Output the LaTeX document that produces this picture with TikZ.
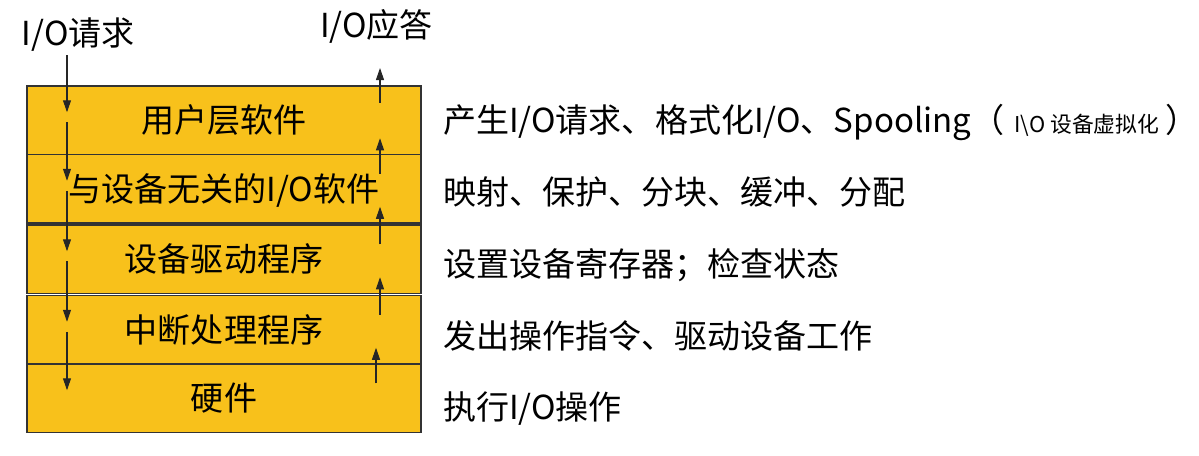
\documentclass[tikz,border=0pt]{standalone}
\usepackage{fontspec}
\setmainfont{Noto Sans CJK SC}
\usetikzlibrary{arrows.meta,positioning}
\definecolor{layerfill}{RGB}{248,193,27}

\begin{document}
\begin{tikzpicture}[
    every node/.style={font=\fontsize{18.8}{22}\selectfont, inner sep=0pt, outer sep=0pt,
                       text height=0.5cm, text depth=0cm},
    layer/.style={draw=black!80, line width=0.7pt, rectangle, fill=layerfill,
                  minimum width=7.88cm, minimum height=1.37cm},
    flow/.style={-{Triangle[length=0.24cm, width=0.16cm]}, line width=0.6pt, black!85}
]
\useasboundingbox (0,0) rectangle (23.98,-9.12);

\node[layer, anchor=north west] (user) at (0.54,-1.72) {用户层软件};
\node[layer, below=0cm of user] (indep) {与设备无关的I/O软件};
\node[layer, below=0.04cm of indep] (driver) {设备驱动程序};
\node[layer, below=0.04cm of driver] (intr) {中断处理程序};
\node[layer, below=0cm of intr] (hw) {硬件};

\node[above right=0.81cm and -0.10cm of user.north west] (req) {I/O请求};
\node[above left=0.97cm and -0.24cm of user.north east] (resp) {I/O应答};

\node[right=0.44cm of user.east, anchor=west] (duser)
    {产生I/O请求、格式化I/O、Spooling（\hspace{0.2cm}{\fontsize{12.4}{14}\selectfont I\textbackslash O 设备虚拟化}\hspace{0.12cm}）};
\node[below=0.935cm of duser.south west, anchor=north west] (dindep) {映射、保护、分块、缓冲、分配};
\node[below=0.935cm of dindep.south west, anchor=north west] (ddriver) {设置设备寄存器；检查状态};
\node[below=0.935cm of ddriver.south west, anchor=north west] (dintr) {发出操作指令、驱动设备工作};
\node[below=0.935cm of dintr.south west, anchor=north west] (dhw) {执行I/O操作};

% request goes down
\coordinate (reqtop) at ([xshift=0.80cm, yshift=0.62cm]user.north west);
\draw[flow] (reqtop) -- ([xshift=0.80cm, yshift=0.16cm]user.west);
\foreach \a/\b in {user/indep, indep/driver, driver/intr, intr/hw}
    \draw[flow] ([xshift=0.80cm, yshift=-0.04cm]\a.west) -- ([xshift=0.80cm, yshift=0.16cm]\b.west);

% answer goes up
\coordinate (resptop) at ([xshift=-0.82cm, yshift=0.36cm]user.north east);
\draw[flow] ([xshift=-0.82cm, yshift=0.35cm]user.east) -- (resptop);
\foreach \a/\b/\x in {indep/user/0.82, driver/indep/0.82, intr/driver/0.82, hw/intr/0.90}
    \draw[flow] ([xshift=-\x cm, yshift=0.30cm]\a.east) -- ([xshift=-\x cm, yshift=-0.36cm]\b.east);
\end{tikzpicture}
\end{document}
